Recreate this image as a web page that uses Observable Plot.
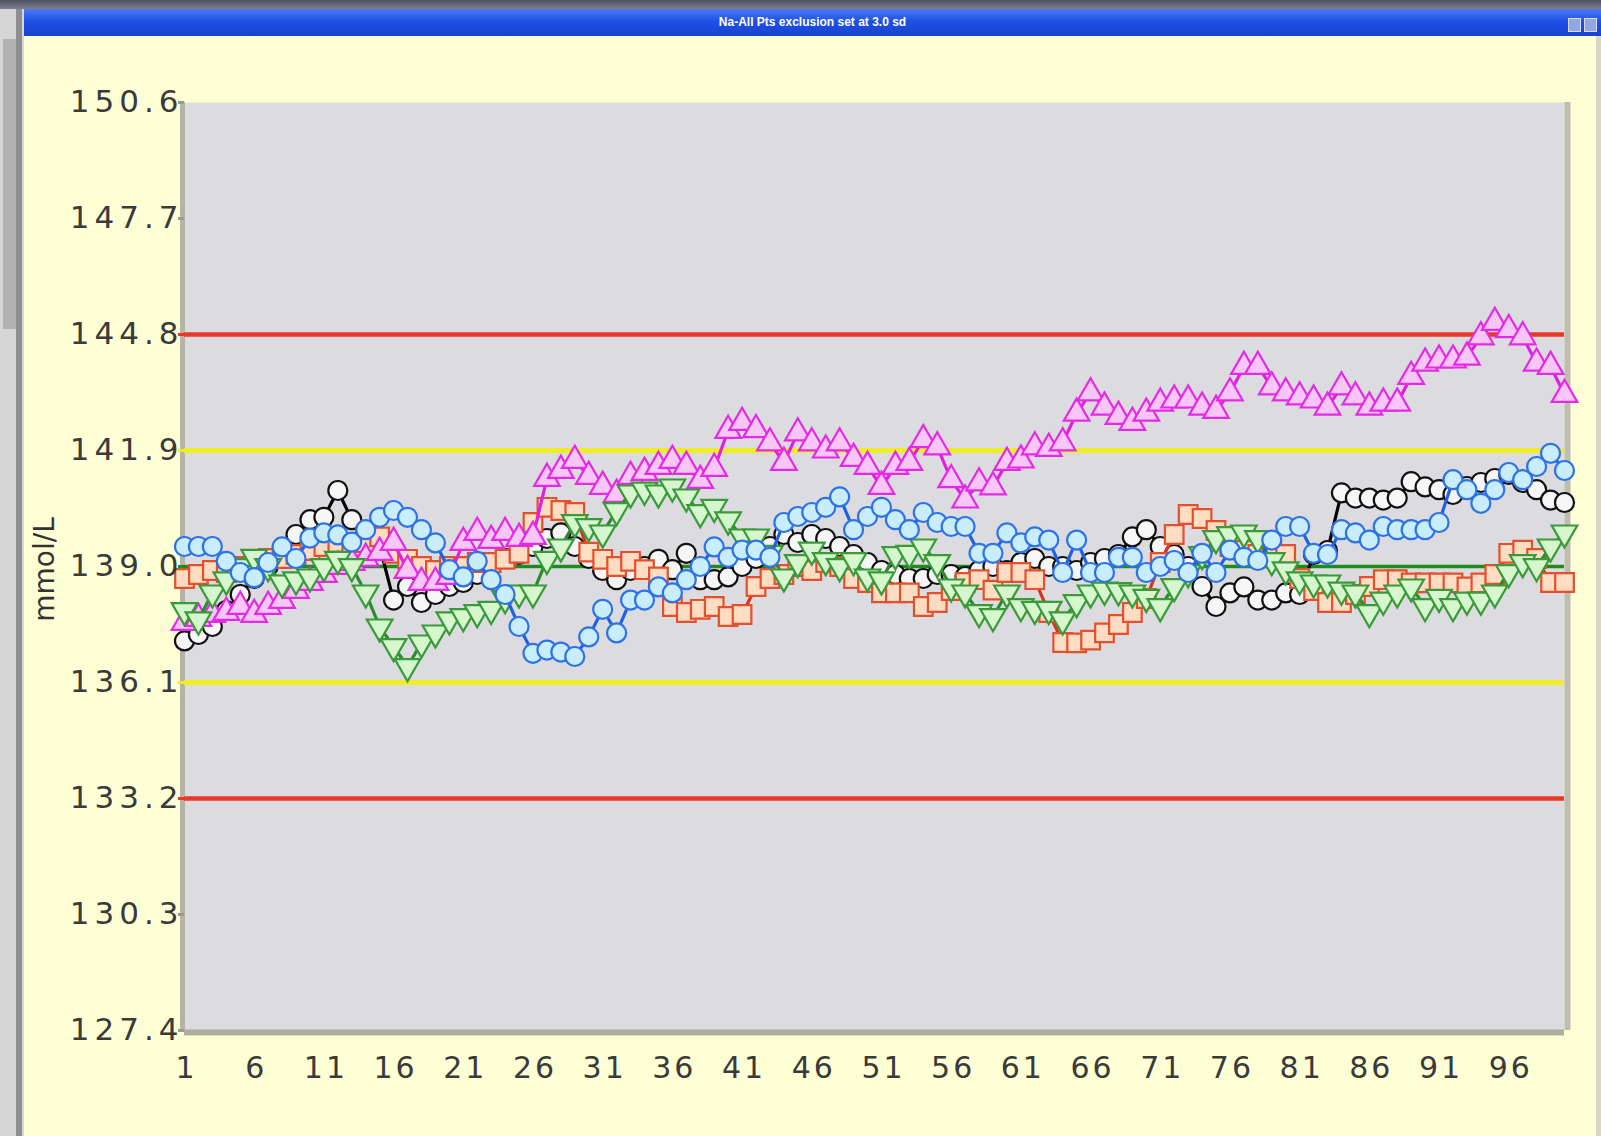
<!DOCTYPE html>
<html><head><meta charset="utf-8">
<script src="https://cdn.jsdelivr.net/npm/d3@7"></script>
<script src="https://cdn.jsdelivr.net/npm/@observablehq/plot@0.6"></script>
<style>
html,body{margin:0;padding:0;background:#ffffd6;}
#page{position:relative;width:1601px;height:1136px;overflow:hidden;background:#ffffd6;font-family:"Liberation Sans",Arial,sans-serif;}
#topedge{position:absolute;left:0;top:0;width:1601px;height:9px;background:linear-gradient(#4a5060,#7a8090);}
#titlebar{position:absolute;left:24px;top:9px;width:1577px;height:27px;background:linear-gradient(#4b7af2,#1f50e6 45%,#1844cc);color:#fff;font:bold 12px "Liberation Sans",Arial,sans-serif;text-align:center;line-height:27px;}
#icons{position:absolute;right:4px;top:6px;}
#icons span{display:inline-block;width:11px;height:12px;margin-left:3px;border:1px solid #dde;background:#8fa6e8;}
#leftbar{position:absolute;left:0;top:9px;width:24px;height:1127px;background:#d6d6d6;}
#leftbar .dark{position:absolute;left:16px;top:0;width:6px;height:100%;background:#8e8e8e;}
#leftbar .mid{position:absolute;left:3px;top:30px;width:13px;height:290px;background:#b2b2b2;}
#rightbar{position:absolute;right:0;top:36px;width:5px;height:1100px;background:#d8d8c8;}
#chart{position:absolute;left:0;top:0;}
#chart g[aria-label="y-axis tick label"] text{letter-spacing:5px;}
#chart g[aria-label="x-axis tick label"] text{letter-spacing:3px;}
</style></head>
<body>
<div id="page">
  <div id="topedge"></div>
  <div id="titlebar">Na-All Pts exclusion set at 3.0 sd<div id="icons"><span></span><span></span></div></div>
  <div id="leftbar"><div class="mid"></div><div class="dark"></div></div>
  <div id="rightbar"></div>
  <div id="chart"></div>
</div>
<script>
const runIndex = d3.range(1, 101);
const xTicks = [1, 6, 11, 16, 21, 26, 31, 36, 41, 46, 51, 56, 61, 66, 71, 76, 81, 86, 91, 96];
const yTicks = [127.4, 130.3, 133.2, 136.1, 139.0, 141.9, 144.8, 147.7, 150.6];
const meanLine = [139.0];
const limit2sd = [141.9, 136.1];
const limit3sd = [144.8, 133.2];

const blackVals = [137.14,137.3,137.5,137.9,138.3,138.7,139.0,139.3,139.8,140.17,
140.23,140.9,140.17,139.9,139.5,138.16,138.5,138.1,138.3,138.5,
138.6,138.8,139.0,139.2,139.3,139.5,139.7,139.84,139.5,139.2,
138.9,138.67,138.9,139.0,139.18,138.92,139.33,138.67,138.67,138.74,
139.0,139.2,139.5,139.8,139.6,139.8,139.7,139.5,139.3,139.1,
138.9,138.8,138.7,138.7,138.8,138.8,138.75,138.9,139.0,138.9,
139.1,139.2,139.0,139.0,138.9,139.1,139.2,139.3,139.74,139.92,
139.5,139.3,139.0,138.5,138.0,138.34,138.49,138.16,138.16,138.34,
138.3,139.3,139.4,140.84,140.71,140.71,140.66,140.71,141.12,140.99,
140.92,140.8,141.0,141.1,141.2,141.3,141.1,140.92,140.66,140.6];

const redVals = [138.7,138.8,138.9,138.85,139.0,139.1,139.2,139.2,139.3,139.4,
139.5,139.6,139.5,139.6,139.74,139.33,139.18,139.0,138.9,139.0,
139.0,139.1,139.1,139.18,139.33,140.1,140.48,140.4,140.35,139.36,
139.18,139.0,139.13,138.92,138.74,138.0,137.85,137.93,138.0,137.75,
137.8,138.5,138.7,138.8,139.0,138.9,139.1,139.0,138.7,138.6,
138.34,138.34,138.34,138.0,138.1,138.4,138.6,138.67,138.41,138.85,
138.85,138.67,137.85,137.1,137.09,137.16,137.34,137.55,137.85,138.2,
139.1,139.8,140.3,140.2,139.9,139.5,139.4,139.3,139.4,139.3,
138.7,138.4,138.1,138.1,138.3,138.5,138.67,138.67,138.59,138.59,
138.59,138.59,138.49,138.59,138.8,139.33,139.41,139.2,138.6,138.6];

const greenVals = [137.9,137.67,138.34,138.67,139.0,139.23,139.0,138.59,138.67,138.74,
139.0,139.18,139.0,138.34,137.49,137.0,136.5,137.09,137.34,137.67,
137.75,137.85,137.93,138.2,138.34,138.34,139.18,139.49,140.1,140.0,
139.84,140.4,140.84,140.91,140.84,140.99,140.74,140.35,140.48,140.17,
139.74,139.74,139.33,138.74,139.1,139.41,139.15,139.0,139.15,138.74,
138.67,139.3,139.33,139.49,139.1,138.49,138.34,137.85,137.75,138.34,
138.0,137.93,137.93,137.67,138.1,138.34,138.41,138.4,138.34,138.23,
138.0,138.5,138.85,139.3,139.7,139.8,139.84,139.7,139.15,138.92,
138.67,138.59,138.59,138.41,138.34,137.85,138.16,138.34,138.49,138.0,
138.23,138.0,138.16,138.16,138.34,138.85,139.1,139.0,139.49,139.84];

const blueVals = [139.5,139.5,139.5,139.13,138.85,138.72,139.1,139.49,139.2,139.71,
139.84,139.79,139.61,139.92,140.23,140.4,140.23,139.92,139.59,138.92,
138.74,139.13,138.67,138.3,137.5,136.83,136.91,136.86,136.75,137.24,
137.93,137.34,138.16,138.16,138.49,138.34,138.67,139.0,139.49,139.23,
139.41,139.41,139.23,140.1,140.25,140.35,140.48,140.74,139.92,140.25,
140.48,140.17,139.92,140.35,140.1,140.0,140.0,139.33,139.33,139.84,
139.59,139.74,139.66,138.85,139.66,138.85,138.85,139.23,139.23,138.85,
139.0,139.15,138.85,139.33,138.85,139.41,139.23,139.15,139.66,140.0,
140.0,139.33,139.3,139.92,139.84,139.66,140.0,139.92,139.92,139.92,
140.1,141.17,140.92,140.58,140.92,141.35,141.17,141.5,141.83,141.4];

const magentaVals = [137.6,137.7,137.8,137.85,138.0,137.8,138.0,138.15,138.4,138.6,
138.8,139.0,139.1,139.2,139.35,139.6,138.9,138.6,138.6,138.75,
139.6,139.85,139.65,139.85,139.7,139.75,141.2,141.4,141.65,141.25,
141.0,140.8,141.25,141.35,141.5,141.65,141.5,141.15,141.45,142.4,
142.6,142.42,142.09,141.6,142.34,142.09,141.91,142.09,141.7,141.5,
141.0,141.5,141.6,142.17,141.99,141.17,140.66,141.09,140.99,141.6,
141.66,141.99,141.95,142.09,142.83,143.34,142.98,142.75,142.6,142.83,
143.08,143.16,143.16,142.98,142.9,143.34,144.0,144.0,143.49,143.34,
143.24,143.16,142.98,143.49,143.24,142.98,143.08,143.08,143.75,144.08,
144.16,144.16,144.23,144.74,145.1,144.92,144.74,144.08,144.0,143.3];

function triangle(down) {
  return {draw(ctx, size) {
    const s = Math.sqrt(size * 4 / Math.sqrt(3));
    const h = s * Math.sqrt(3) / 2;
    const k = down ? -1 : 1;
    ctx.moveTo(-s / 2, k * h / 3);
    ctx.lineTo(s / 2, k * h / 3);
    ctx.lineTo(0, -k * 2 * h / 3);
    ctx.closePath();
  }};
}

const series = [
  {vals: blackVals, stroke: "#111111", line: "#000000", fill: "#f6f6f6", symbol: "circle", r: 9.5},
  {vals: redVals, stroke: "#e2502e", line: "#d9341c", fill: "#ffdcc2", symbol: "square", r: 10.5},
  {vals: magentaVals, stroke: "#e52ae5", line: "#e020e0", fill: "#f8c6f8", symbol: triangle(false), r: 9.5},
  {vals: greenVals, stroke: "#3a9a3a", line: "#2e8a2e", fill: "#d6f7ce", symbol: triangle(true), r: 9.5},
  {vals: blueVals, stroke: "#2f72e6", line: "#1f62e0", fill: "#c8edff", symbol: "circle", r: 9.5}
];

const seriesMarks = series.flatMap(s => {
  const rows = runIndex.map((i, k) => ({i, v: s.vals[k]}));
  return [
    Plot.line(rows, {x: "i", y: "v", stroke: s.line, strokeWidth: 3.2}),
    Plot.dot(rows, {x: "i", y: "v", symbol: s.symbol, r: s.r, stroke: s.stroke, fill: s.fill, strokeWidth: 2.2})
  ];
});

function tickColor(d) {
  if (limit3sd.includes(d)) return "#e8382a";
  if (limit2sd.includes(d)) return "#ecec2a";
  if (meanLine.includes(d)) return "#1f8a1f";
  return "#9a9a90";
}

const chart = Plot.plot({
  width: 1601,
  height: 1136,
  marginLeft: 184,
  marginRight: 37,
  marginTop: 102,
  marginBottom: 106,
  style: {background: "transparent", fontFamily: "'DejaVu Sans', Arial, sans-serif", color: "#333"},
  x: {domain: [1, 100], label: null},
  y: {domain: [127.4, 150.6], label: null},
  marks: [
    Plot.frame({fill: "#dcdce0", stroke: null}),
    Plot.ruleX([1], {stroke: "#b4b4a8", strokeWidth: 5, dx: -2}),
    Plot.ruleY([127.4], {stroke: "#aeae9e", strokeWidth: 6, dy: 2}),
    Plot.ruleX([100], {stroke: "#bdbdb2", strokeWidth: 6, dx: 3}),
    Plot.ruleY(limit3sd, {stroke: "#e8382a", strokeWidth: 4.5}),
    Plot.ruleY(limit2sd, {stroke: "#eeee22", strokeWidth: 5}),
    Plot.ruleY(meanLine, {stroke: "#1f8a1f", strokeWidth: 3.5}),
    ...seriesMarks,
    Plot.axisY(yTicks, {tickSize: 6, stroke: tickColor, strokeWidth: 3, tickPadding: -5, fontSize: 31, fill: "#3a3a3a", tickFormat: d => d.toFixed(1), label: null}),
    Plot.axisX(xTicks, {tickSize: 0, tickPadding: 26, fontSize: 30, fill: "#3a3a3a", dx: 2, label: null}),
    Plot.text(["mmol/L"], {frameAnchor: "left", dx: -139, dy: 3, rotate: -90, fontSize: 28, fill: "#333", textAnchor: "middle"})
  ]
});
document.getElementById("chart").appendChild(chart);
</script>
</body></html>
